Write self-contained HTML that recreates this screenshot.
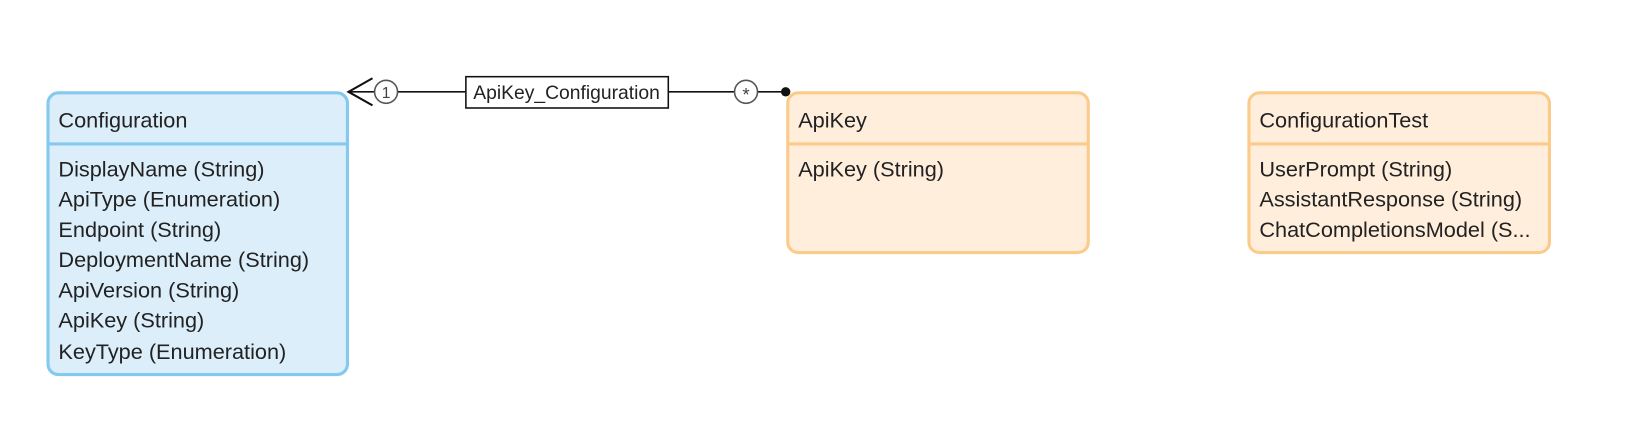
<!DOCTYPE html>
<html><head><meta charset="utf-8"><style>
html,body{margin:0;padding:0;background:#fff;width:1636px;height:422px;overflow:hidden}
text{font-family:"Liberation Sans",sans-serif;font-size:20.8px;fill:#222}
</style></head><body>
<svg width="1636" height="422" xmlns="http://www.w3.org/2000/svg">
<g transform="scale(1.0434)">
<rect x="46" y="89" width="287" height="270" rx="10" fill="#dbeefa" stroke="#85c9ef" stroke-width="3"/>
<line x1="46" y1="138" x2="333" y2="138" stroke="#85c9ef" stroke-width="3"/>
<text x="56" y="122">Configuration</text>
<text x="56" y="169">DisplayName (String)</text>
<text x="56" y="198">ApiType (Enumeration)</text>
<text x="56" y="227">Endpoint (String)</text>
<text x="56" y="256">DeploymentName (String)</text>
<text x="56" y="285">ApiVersion (String)</text>
<text x="56" y="314">ApiKey (String)</text>
<text x="56" y="344">KeyType (Enumeration)</text>
<rect x="755" y="89" width="288" height="153" rx="10" fill="#ffeedc" stroke="#fbcb8a" stroke-width="3"/>
<line x1="755" y1="138" x2="1043" y2="138" stroke="#fbcb8a" stroke-width="3"/>
<text x="765" y="122">ApiKey</text>
<text x="765" y="169">ApiKey (String)</text>
<rect x="1197" y="89" width="288" height="153" rx="10" fill="#ffeedc" stroke="#fbcb8a" stroke-width="3"/>
<line x1="1197" y1="138" x2="1485" y2="138" stroke="#fbcb8a" stroke-width="3"/>
<text x="1207" y="122">ConfigurationTest</text>
<text x="1207" y="169">UserPrompt (String)</text>
<text x="1207" y="198">AssistantResponse (String)</text>
<text x="1207" y="227">ChatCompletionsModel (S...</text>
<line x1="381" y1="88" x2="446" y2="88" stroke="#111" stroke-width="1.5"/>
<line x1="641" y1="88" x2="704" y2="88" stroke="#111" stroke-width="1.5"/>
<line x1="726" y1="88" x2="753" y2="88" stroke="#111" stroke-width="1.5"/>
<polyline points="357,75 334,88 357,101" fill="none" stroke="#111" stroke-width="2"/>
<line x1="334" y1="88" x2="359" y2="88" stroke="#111" stroke-width="1.5"/>
<circle cx="370" cy="88" r="11" fill="#fff" stroke="#555" stroke-width="1.5"/>
<text x="370" y="94" text-anchor="middle" style="font-size:15px;fill:#444">1</text>
<circle cx="715" cy="88" r="11" fill="#fff" stroke="#555" stroke-width="1.5"/>
<text x="715" y="97" text-anchor="middle" style="font-size:18px;fill:#444">*</text>
<circle cx="753" cy="88" r="4.5" fill="#111"/>
<rect x="446.5" y="73.5" width="194" height="30" fill="#fff" stroke="#111" stroke-width="1.5"/>
<text x="543" y="95" text-anchor="middle" style="font-size:18.5px">ApiKey_Configuration</text>
</g>
</svg>
</body></html>
